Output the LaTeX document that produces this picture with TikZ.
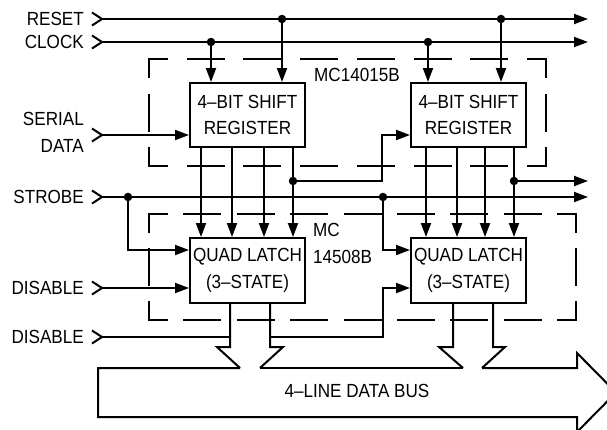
\documentclass[tikz,border=0pt]{standalone}
\usepackage{fontspec}
\setmainfont[FakeStretch=0.9]{Liberation Sans}
\usetikzlibrary{arrows.meta}
\newcommand\lblfont{\fontsize{19}{26.5}\selectfont}
\begin{document}
\begin{tikzpicture}[x=1pt,y=-1pt,
  wire/.style={line width=2pt,line join=miter},
  sig/.style={wire,-{Triangle[length=14pt,width=10pt]}},
  dsh/.style={line width=2pt,line cap=rect},
  blk/.style={draw,line width=2pt,minimum width=115pt,minimum height=64pt,inner sep=0pt,align=center,font=\lblfont},
  lab/.style={font=\lblfont,inner sep=0pt},
  dot/.style={circle,fill,inner sep=0pt,minimum size=8.5pt},
  chev/.pic={\draw[wire] (-10,-6.5) -- (0,0) -- (-10,6.5);}
]
\useasboundingbox (0,0) rectangle (607,429);
\clip (0,0) rectangle (607,429);

% dashed package outlines
\draw[dsh,dash pattern=on 36pt off 20.71pt,dash phase=18pt] (149,59) -- (546,59);
\draw[dsh,dash pattern=on 36pt off 20.71pt,dash phase=18pt] (149,166) -- (546,166);
\draw[dsh,dash pattern=on 36pt off 17.5pt,dash phase=18pt] (149,59) -- (149,166);
\draw[dsh,dash pattern=on 36pt off 17.5pt,dash phase=18pt] (546,59) -- (546,166);
\draw[dsh,dash pattern=on 36pt off 17.375pt,dash phase=18pt] (149,214) -- (576,214);
\draw[dsh,dash pattern=on 36pt off 17.375pt,dash phase=18pt] (149,320) -- (576,320);
\draw[dsh,dash pattern=on 36pt off 17pt,dash phase=18pt] (149,214) -- (149,320);
\draw[dsh,dash pattern=on 36pt off 17pt,dash phase=18pt] (576,214) -- (576,320);
\node[lab,anchor=west] (pkg1) at (314,75) {MC14015B};
\node[lab,anchor=west,align=left] (pkg2) at (313,243.5) {MC\\14508B};

% blocks
\node[blk] (reg1) at (247.5,115) {4–BIT SHIFT\\REGISTER};
\node[blk] (reg2) at (468.5,115) {4–BIT SHIFT\\REGISTER};
\node[blk,minimum height=65pt] (lat1) at (247.5,270.5) {QUAD LATCH\\(3–STATE)};
\node[blk,minimum height=65pt] (lat2) at (468.5,270.5) {QUAD LATCH\\(3–STATE)};

% input pins and labels
\coordinate (pR) at (102,19);
\coordinate (pC) at (102,42);
\coordinate (pS) at (102,135);
\coordinate (pSt) at (102,197);
\coordinate (pD1) at (102,288);
\coordinate (pD2) at (102,337);
\foreach \p in {pR,pC,pS,pSt,pD1,pD2} \pic at (\p) {chev};
\node[lab,anchor=east] (lR) at (84,19) {RESET};
\node[lab,anchor=east] (lC) at (84,42) {CLOCK};
\node[lab,anchor=east,align=right] (lS) at (84,132.5) {SERIAL\\DATA};
\node[lab,anchor=east] (lSt) at (84,197) {STROBE};
\node[lab,anchor=east] (lD1) at (84,288) {DISABLE};
\node[lab,anchor=east] (lD2) at (84,337) {DISABLE};

% outputs
\coordinate (oR) at (588,19);
\coordinate (oC) at (588,42);
\coordinate (oQ) at (588,181);
\coordinate (oSt) at (588,197);

% junction dots
\node[dot] (dR1) at (282,19) {};
\node[dot] (dR2) at (501,19) {};
\node[dot] (dC1) at (211,42) {};
\node[dot] (dC2) at (428,42) {};
\node[dot] (dQ1) at (293,181) {};
\node[dot] (dQ2) at (514,181) {};
\node[dot] (dS1) at (128,197) {};
\node[dot] (dS2) at (383,197) {};

% reset / clock
\draw[sig] (pR) -- (oR);
\draw[sig] (pC) -- (oC);
\draw[sig] (dR1.center) -- (dR1.center |- reg1.north);
\draw[sig] (dR2.center) -- (dR2.center |- reg2.north);
\draw[sig] (dC1.center) -- (dC1.center |- reg1.north);
\draw[sig] (dC2.center) -- (dC2.center |- reg2.north);

% serial data chain
\draw[sig] (pS) -- (pS -| reg1.west);
\coordinate (in2) at (382,135);
\draw[sig] (dQ1.center) -| (in2) -- (in2 -| reg2.west);
\draw[sig] (dQ2.center) -- (oQ);

% register outputs to latches
\foreach \x in {201,232,264,293} \draw[sig] (\x,0 |- reg1.south) -- (\x,0 |- lat1.north);
\foreach \x in {426,457,485,514} \draw[sig] (\x,0 |- reg2.south) -- (\x,0 |- lat2.north);

% strobe
\draw[sig] (pSt) -- (oSt);
\coordinate (st) at (0,250);
\draw[sig] (dS1.center) |- (lat1.west |- st);
\draw[sig] (dS2.center) |- (lat2.west |- st);

% disables
\draw[sig] (pD1) -- (pD1 -| lat1.west);
\coordinate (d2a) at (230,337);
\coordinate (d2b) at (270,337);
\coordinate (d2c) at (383,288);
\draw[wire] (pD2) -- (d2a);
\draw[sig] (d2b) -| (d2c) -- (d2c -| lat2.west);

% bus outputs
\draw[wire] (230,0 |- lat1.south) -- (230,347) -- (217,347) -- (240,368);
\draw[wire] (270,0 |- lat1.south) -- (270,347) -- (283,347) -- (260,368);
\draw[wire] (453,0 |- lat2.south) -- (453,347) -- (439,347) -- (463,368);
\draw[wire] (493,0 |- lat2.south) -- (493,347) -- (505,347) -- (482,368);

% data bus
\draw[wire] (240,368) -- (98,368) -- (98,417) -- (577,417) -- (577,432) -- (616,392.5) -- (577,353) -- (577,368) -- (482,368);
\draw[wire] (260,368) -- (463,368);
\node[lab] (bus) at (357,391) {4–LINE DATA BUS};
\end{tikzpicture}
\end{document}
